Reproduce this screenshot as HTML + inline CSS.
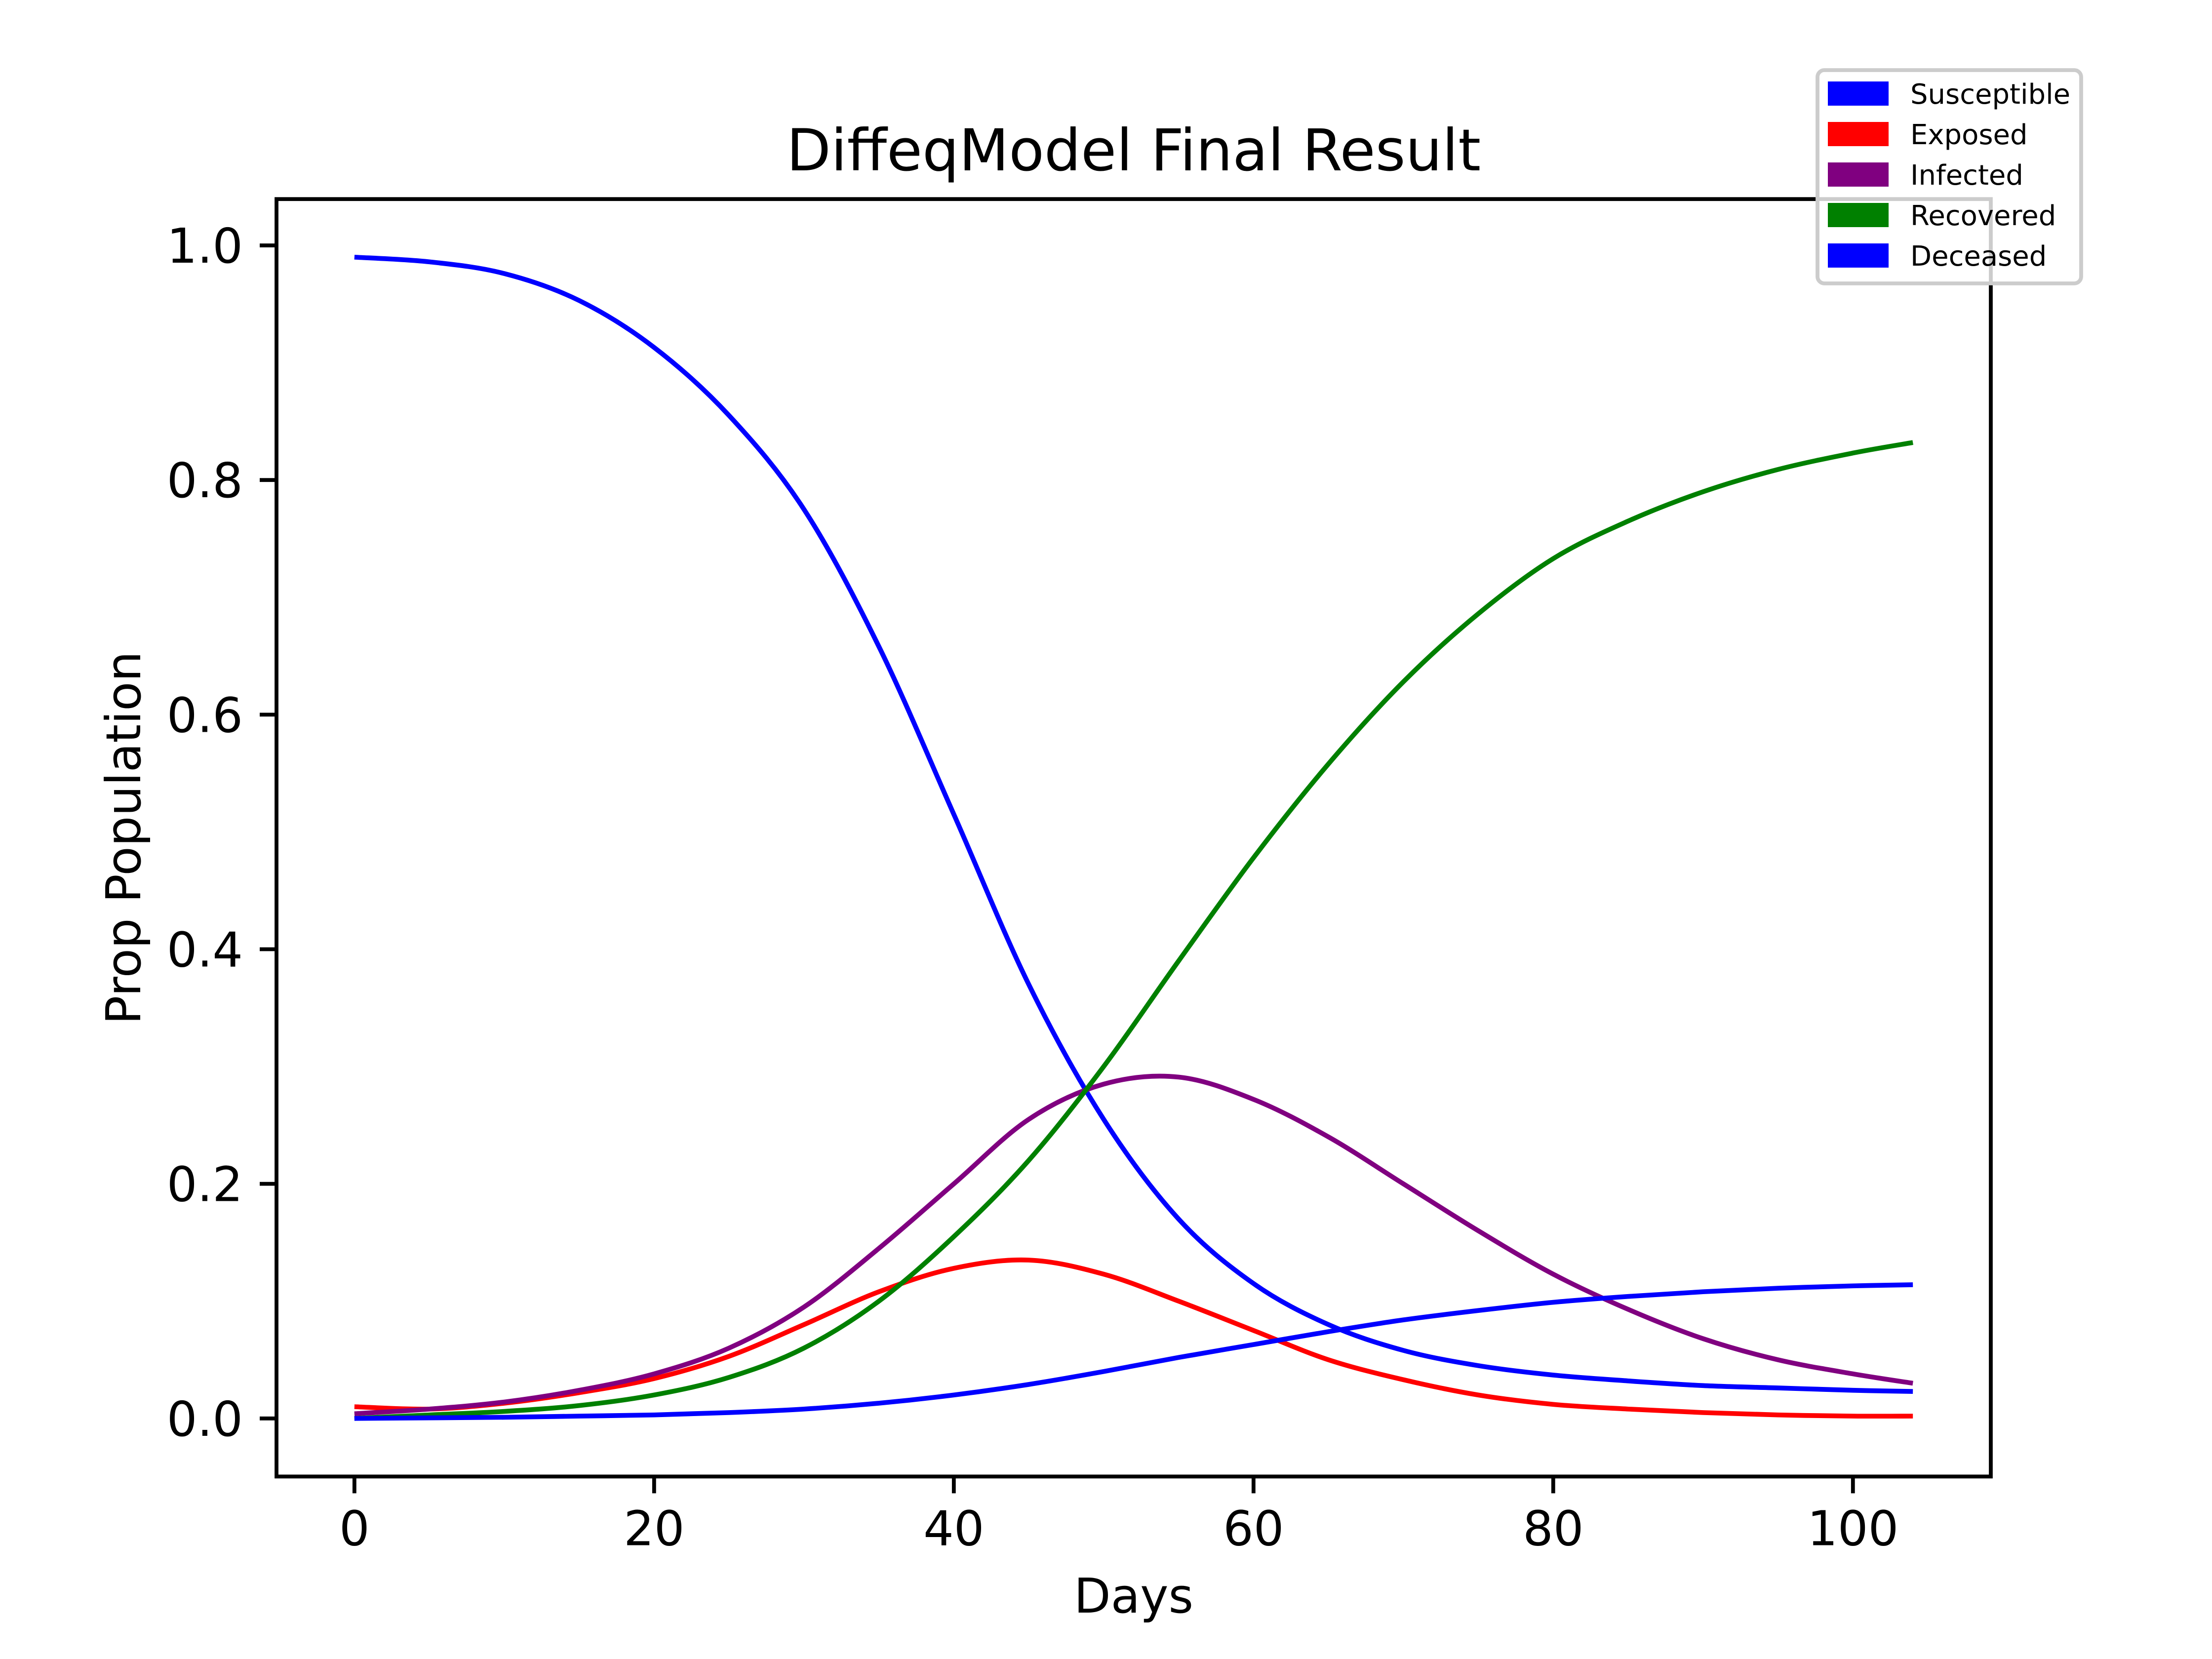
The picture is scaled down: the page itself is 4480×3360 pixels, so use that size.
<!DOCTYPE html>
<html><head><meta charset="utf-8"><style>
html,body{margin:0;padding:0;background:#fff;}
svg{display:block;font-family:"DejaVu Sans","Liberation Sans",sans-serif;}
</style></head><body>
<svg id="chart" width="4480" height="3360" viewBox="0 0 4480 3360" xmlns="http://www.w3.org/2000/svg">
<rect x="0" y="0" width="4480" height="3360" fill="#fff"/>
<g id="plot"></g>
<text x="2296" y="345" font-size="117" text-anchor="middle">DiffeqModel Final Result</text>
<text x="2296" y="3266" font-size="97" text-anchor="middle">Days</text>
<text x="0" y="0" font-size="97" text-anchor="middle" transform="translate(284,1697) rotate(-90)">Prop Population</text>
</svg>
<script>
const days = [0,5,10,15,20,25,30,35,40,45,50,55,60,65,70,75,80,85,90,95,100,104];
const susceptible = [0.990,0.986,0.976,0.953,0.913,0.855,0.775,0.658,0.515,0.37,0.255,0.17,0.115,0.08,0.058,0.045,0.037,0.032,0.028,0.026,0.024,0.023];
const exposed = [0.010,0.008,0.013,0.022,0.034,0.053,0.08,0.108,0.128,0.135,0.123,0.1,0.075,0.05,0.033,0.02,0.012,0.008,0.005,0.003,0.002,0.002];
const infected = [0.004,0.008,0.014,0.024,0.038,0.06,0.095,0.145,0.2,0.255,0.285,0.291,0.272,0.24,0.2,0.16,0.123,0.093,0.068,0.05,0.038,0.03];
const recovered = [0.0,0.003,0.006,0.011,0.02,0.035,0.06,0.1,0.155,0.22,0.3,0.39,0.478,0.558,0.628,0.686,0.733,0.765,0.79,0.809,0.823,0.832];
const deceased = [0.0,0.0005,0.001,0.002,0.003,0.005,0.008,0.013,0.02,0.029,0.04,0.052,0.063,0.074,0.084,0.092,0.099,0.104,0.108,0.111,0.113,0.114];
const xTicks = [0,20,40,60,80,100];
const yTicks = [0.0,0.2,0.4,0.6,0.8,1.0];
const yTickLabels = ["0.0","0.2","0.4","0.6","0.8","1.0"];
const legendLabels = ["Susceptible","Exposed","Infected","Recovered","Deceased"];
const legendColors = ["#0000ff","#ff0000","#800080","#008000","#0000ff"];

const L=560,R=4032,T=403.2,B=2990.4;
const xmin=-5.2,xmax=109.2,ymin=-0.0495,ymax=1.0395;
function sx(v){return L+(v-xmin)/(xmax-xmin)*(R-L);}
function sy(v){return B-(v-ymin)/(ymax-ymin)*(B-T);}
const NS="http://www.w3.org/2000/svg";
const plot=document.getElementById('plot');
function mk(tag,attrs,parent){const e=document.createElementNS(NS,tag);for(const k in attrs)e.setAttribute(k,attrs[k]);(parent||plot).appendChild(e);return e;}

function pathFor(ys){
  const p=days.map((d,i)=>[sx(d),sy(ys[i])]);
  let s="M"+p[0][0]+","+p[0][1];
  for(let i=0;i<p.length-1;i++){
    const p0=p[Math.max(0,i-1)],p1=p[i],p2=p[i+1],p3=p[Math.min(p.length-1,i+2)];
    const c1=[p1[0]+(p2[0]-p0[0])/6,p1[1]+(p2[1]-p0[1])/6];
    const c2=[p2[0]-(p3[0]-p1[0])/6,p2[1]-(p3[1]-p1[1])/6];
    s+=" C"+c1[0]+","+c1[1]+" "+c2[0]+","+c2[1]+" "+p2[0]+","+p2[1];
  }
  return s;
}
const series=[[susceptible,"susceptible-line"],[exposed,"exposed-line"],[infected,"infected-line"],[recovered,"recovered-line"],[deceased,"deceased-line"]];
series.forEach((s,i)=>{
  const el=mk('path',{d:pathFor(s[0]),fill:'none',stroke:legendColors[i],'stroke-width':9.7,'stroke-linejoin':'round'});
  
  
});
const fr=mk('rect',{x:L,y:T,width:R-L,height:B-T,fill:'none',stroke:'#000','stroke-width':7.8});


xTicks.forEach(v=>{
  const t=mk('line',{x1:sx(v),x2:sx(v),y1:B,y2:B+34,stroke:'#000','stroke-width':7.8});
  
  
  const lb=mk('text',{x:sx(v),y:B+68+71,'font-size':97,'text-anchor':'middle'});
  lb.textContent=String(v);
  
  
});
yTicks.forEach((v,i)=>{
  const t=mk('line',{x1:L-34,x2:L,y1:sy(v),y2:sy(v),stroke:'#000','stroke-width':7.8});
  
  
  const lb=mk('text',{x:L-68,y:sy(v)+35,'font-size':97,'text-anchor':'end'});
  lb.textContent=yTickLabels[i];
  
  
});
const lg=mk('g',{});


mk('rect',{x:3681,y:142,width:534,height:432,rx:14,fill:'#fff','fill-opacity':0.8,stroke:'#cccccc','stroke-width':7.8},lg);
legendLabels.forEach((lab,i)=>{
  const cy=189+i*82;
  const sw=mk('rect',{x:3702,y:cy-24,width:123,height:49,fill:legendColors[i]},lg);
  
  
  const tx=mk('text',{x:3869,y:cy+21,'font-size':56},lg);
  tx.textContent=lab;
  
  
});
</script>
</body></html>
